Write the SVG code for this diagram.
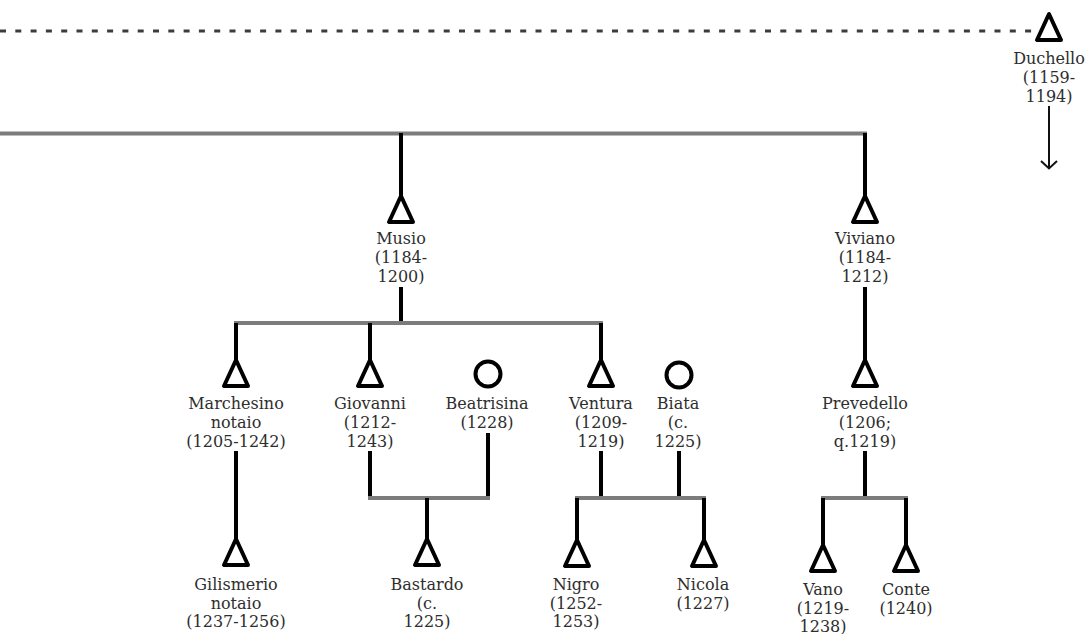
<svg xmlns="http://www.w3.org/2000/svg" width="1088" height="634" viewBox="0 0 1088 634">
<style>
.bg{fill:#fff}
.t{font-family:"DejaVu Serif","Liberation Serif",serif;font-size:16px;fill:#2e2e2e;text-anchor:middle}
.v{stroke:#000;stroke-width:4;fill:none}
.h{stroke:#7a7c7e;stroke-width:4;fill:none}
.m{fill:#fff;stroke:#000;stroke-width:4;stroke-linejoin:round}
.f{fill:#fff;stroke:#000;stroke-width:4}
.d{stroke:#3a3d40;stroke-width:3;stroke-dasharray:6 9.3;fill:none}
.a{stroke:#111;stroke-width:2;fill:none}
</style>
<defs>
<polygon id="tri" points="0,0 -12,26 12,26"/>
</defs>
<rect class="bg" x="0" y="0" width="1088" height="634"/>
<g id="connectors">
<line class="d" x1="0" y1="31" x2="1035" y2="31"/>
<line class="a" x1="1049" y1="106" x2="1049" y2="168"/>
<polyline class="a" points="1041,161 1049,168.5 1057,161"/>
<line class="h" x1="0" y1="133.5" x2="867" y2="133.5"/>
<line class="v" x1="401" y1="133" x2="401" y2="196"/>
<line class="v" x1="865" y1="133" x2="865" y2="196"/>
<line class="v" x1="401" y1="287" x2="401" y2="323"/>
<line class="h" x1="234" y1="323" x2="603" y2="323"/>
<line class="v" x1="236" y1="323" x2="236" y2="360"/>
<line class="v" x1="370" y1="323" x2="370" y2="360"/>
<line class="v" x1="601" y1="323" x2="601" y2="360"/>
<line class="v" x1="865" y1="287" x2="865" y2="360"/>
<line class="v" x1="236" y1="451" x2="236" y2="539"/>
<line class="v" x1="370" y1="451" x2="370" y2="498"/>
<line class="v" x1="488" y1="433" x2="488" y2="498"/>
<line class="h" x1="368" y1="498" x2="490" y2="498"/>
<line class="v" x1="427" y1="498" x2="427" y2="539"/>
<line class="v" x1="601" y1="451" x2="601" y2="498"/>
<line class="v" x1="679" y1="451" x2="679" y2="498"/>
<line class="h" x1="575" y1="498" x2="706" y2="498"/>
<line class="v" x1="577" y1="498" x2="577" y2="540"/>
<line class="v" x1="704" y1="498" x2="704" y2="540"/>
<line class="v" x1="865" y1="451" x2="865" y2="498"/>
<line class="h" x1="821" y1="498" x2="908" y2="498"/>
<line class="v" x1="823" y1="498" x2="823" y2="545"/>
<line class="v" x1="906" y1="498" x2="906" y2="545"/>
</g>
<g id="duchello">
<use href="#tri" class="m" x="1049" y="14"/>
<text class="t" x="1049" y="64">Duchello</text>
<text class="t" x="1049" y="83">(1159-</text>
<text class="t" x="1049" y="102">1194)</text>
</g>
<g id="musio">
<use href="#tri" class="m" x="401" y="196"/>
<text class="t" x="401" y="244">Musio</text>
<text class="t" x="401" y="263">(1184-</text>
<text class="t" x="401" y="282">1200)</text>
</g>
<g id="viviano">
<use href="#tri" class="m" x="865" y="196"/>
<text class="t" x="865" y="244">Viviano</text>
<text class="t" x="865" y="263">(1184-</text>
<text class="t" x="865" y="282">1212)</text>
</g>
<g id="marchesino">
<use href="#tri" class="m" x="236" y="360"/>
<text class="t" x="236" y="409">Marchesino</text>
<text class="t" x="236" y="428">notaio</text>
<text class="t" x="236" y="447">(1205-1242)</text>
</g>
<g id="giovanni">
<use href="#tri" class="m" x="370" y="360"/>
<text class="t" x="370" y="409">Giovanni</text>
<text class="t" x="370" y="428">(1212-</text>
<text class="t" x="370" y="447">1243)</text>
</g>
<g id="beatrisina">
<circle class="f" cx="488" cy="374" r="12.5"/>
<text class="t" x="487" y="409">Beatrisina</text>
<text class="t" x="487" y="428">(1228)</text>
</g>
<g id="ventura">
<use href="#tri" class="m" x="601" y="360"/>
<text class="t" x="601" y="409">Ventura</text>
<text class="t" x="601" y="428">(1209-</text>
<text class="t" x="601" y="447">1219)</text>
</g>
<g id="biata">
<circle class="f" cx="679" cy="375" r="12.5"/>
<text class="t" x="678" y="409">Biata</text>
<text class="t" x="678" y="428">(c.</text>
<text class="t" x="678" y="447">1225)</text>
</g>
<g id="prevedello">
<use href="#tri" class="m" x="865" y="360"/>
<text class="t" x="865" y="409">Prevedello</text>
<text class="t" x="865" y="428">(1206;</text>
<text class="t" x="865" y="447">q.1219)</text>
</g>
<g id="gilismerio">
<use href="#tri" class="m" x="236" y="539"/>
<text class="t" x="236" y="590">Gilismerio</text>
<text class="t" x="236" y="608.5">notaio</text>
<text class="t" x="236" y="627">(1237-1256)</text>
</g>
<g id="bastardo">
<use href="#tri" class="m" x="427" y="539"/>
<text class="t" x="427" y="590">Bastardo</text>
<text class="t" x="427" y="608.5">(c.</text>
<text class="t" x="427" y="627">1225)</text>
</g>
<g id="nigro">
<use href="#tri" class="m" x="577" y="540"/>
<text class="t" x="576" y="590">Nigro</text>
<text class="t" x="576" y="608.5">(1252-</text>
<text class="t" x="576" y="627">1253)</text>
</g>
<g id="nicola">
<use href="#tri" class="m" x="704" y="540"/>
<text class="t" x="703" y="590">Nicola</text>
<text class="t" x="703" y="608.5">(1227)</text>
</g>
<g id="vano">
<use href="#tri" class="m" x="823" y="545"/>
<text class="t" x="823" y="595">Vano</text>
<text class="t" x="823" y="613.5">(1219-</text>
<text class="t" x="823" y="632">1238)</text>
</g>
<g id="conte">
<use href="#tri" class="m" x="906" y="545"/>
<text class="t" x="906" y="595">Conte</text>
<text class="t" x="906" y="613.5">(1240)</text>
</g>
</svg>
